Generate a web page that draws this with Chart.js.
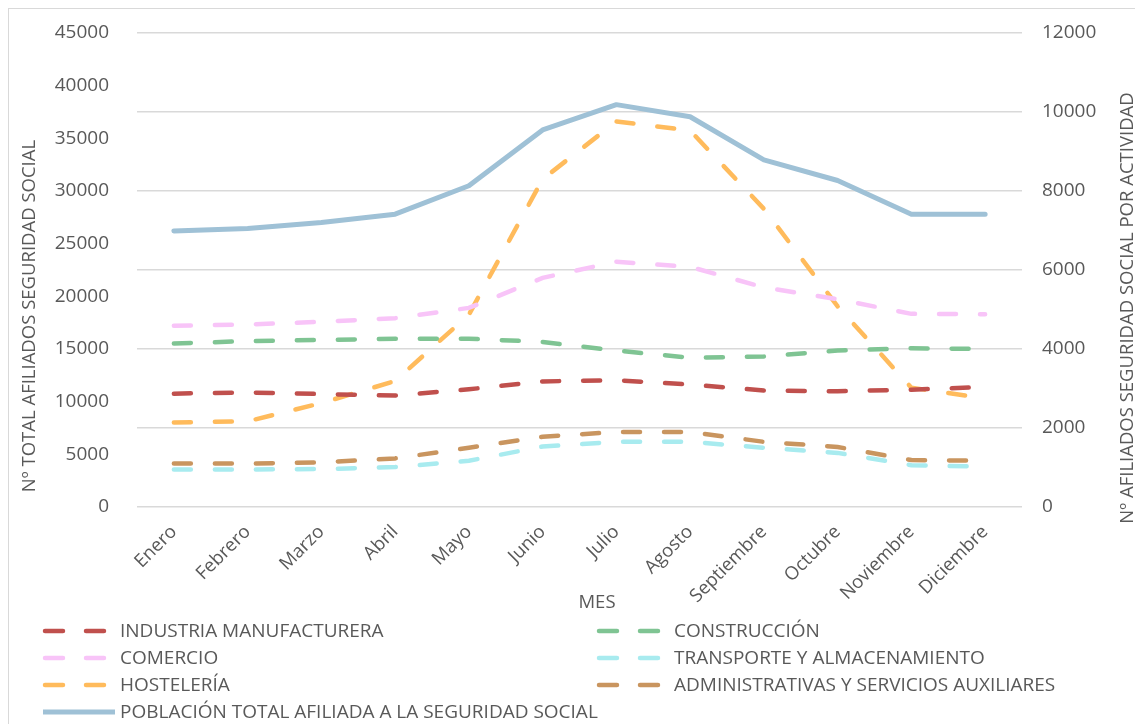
<!DOCTYPE html>
<html>
<head>
<meta charset="utf-8">
<script src="https://cdn.jsdelivr.net/npm/chart.js@4.4.1/dist/chart.umd.min.js"></script>
<style>
  body { margin: 0; background: #fff; }
  #frame { position: absolute; left: 8px; top: 8px; width: 1140px; height: 730px; border: 1px solid #d9d9d9; }
  #wrap { position: absolute; left: 0; top: 0; width: 1126px; height: 715px; }
</style>
</head>
<body>
<div id="frame"><div id="wrap"><canvas id="afiliados-chart"></canvas></div></div>
<script>
// Datos
const meses = ['Enero', 'Febrero', 'Marzo', 'Abril', 'Mayo', 'Junio', 'Julio', 'Agosto', 'Septiembre', 'Octubre', 'Noviembre', 'Diciembre'];
const industria = [2870, 2900, 2860, 2820, 2980, 3180, 3210, 3100, 2950, 2930, 2970, 3040];
const construccion = [4140, 4200, 4230, 4260, 4260, 4180, 3960, 3780, 3810, 3960, 4020, 4000];
const comercio = [4590, 4620, 4690, 4780, 5040, 5800, 6210, 6080, 5560, 5260, 4890, 4880];
const transporte = [950, 950, 960, 1010, 1170, 1530, 1650, 1650, 1500, 1370, 1060, 1020];
const hosteleria = [2140, 2170, 2630, 3190, 4870, 8300, 9760, 9530, 7550, 5080, 3020, 2750];
const administrativas = [1100, 1100, 1130, 1230, 1500, 1780, 1900, 1900, 1650, 1520, 1190, 1170];
const poblacionTotal = [26200, 26450, 27000, 27800, 30500, 35800, 38200, 37050, 32950, 31000, 27800, 27800];

const tituloIzq = 'Nº TOTAL AFILIADOS SEGURIDAD SOCIAL';
const tituloDer = 'Nº AFILIADOS SEGURIDAD SOCIAL POR ACTIVIDAD';
const tituloX = 'MES';

const textColor = '#595959';
const fontFamily = '"Open Sans", sans-serif';

function dashed(label, data, color) {
  return {
    label: label,
    data: data,
    yAxisID: 'y1',
    borderColor: color,
    backgroundColor: color,
    borderWidth: 4.5,
    borderDash: [17, 24],
    borderCapStyle: 'round',
    pointRadius: 0,
    tension: 0
  };
}

// Leyenda en dos columnas y titulos de ejes (como Excel)
const excelExtras = {
  id: 'excelExtras',
  afterDraw(chart) {
    const ctx = chart.ctx;
    ctx.save();
    ctx.fillStyle = textColor;
    ctx.textBaseline = 'middle';
    ctx.textAlign = 'center';
    ctx.font = '18.5px ' + fontFamily;

    ctx.save();
    ctx.translate(21, 307);
    ctx.rotate(-Math.PI / 2);
    ctx.fillText(tituloIzq, 0, 0);
    ctx.restore();

    ctx.save();
    ctx.translate(1119, 299);
    ctx.rotate(-Math.PI / 2);
    ctx.fillText(tituloDer, 0, 0);
    ctx.restore();

    ctx.fillText(tituloX, 588, 594);

    ctx.textAlign = 'left';
    ctx.font = '19px ' + fontFamily;
    chart.data.datasets.forEach((ds, i) => {
      const col = i % 2;
      const row = Math.floor(i / 2);
      const x = col ? 588 : 34;
      const y = 622 + row * 27;
      ctx.strokeStyle = ds.borderColor;
      ctx.lineCap = 'round';
      ctx.lineWidth = ds.borderWidth;
      ctx.beginPath();
      if (ds.borderDash) {
        ctx.moveTo(x + 2, y); ctx.lineTo(x + 20, y);
        ctx.moveTo(x + 43, y); ctx.lineTo(x + 61, y);
      } else {
        ctx.lineCap = 'butt';
        ctx.moveTo(x, y); ctx.lineTo(x + 72, y);
      }
      ctx.stroke();
      ctx.fillText(ds.label, x + 77, y + 1);
    });
    ctx.restore();
  }
};

function fitVertical(width) {
  return function (scale) {
    scale.width = width;
    scale.paddingTop = 0;
    scale.paddingBottom = 0;
  };
}

const ctx = document.getElementById('afiliados-chart').getContext('2d');
const chart = new Chart(ctx, {
  type: 'line',
  data: {
    labels: meses,
    datasets: [
      dashed('INDUSTRIA MANUFACTURERA', industria, '#c0504d'),
      dashed('CONSTRUCCIÓN', construccion, '#7fc493'),
      dashed('COMERCIO', comercio, '#f8c4f8'),
      dashed('TRANSPORTE Y ALMACENAMIENTO', transporte, '#a8ebef'),
      dashed('HOSTELERÍA', hosteleria, '#ffbb5c'),
      dashed('ADMINISTRATIVAS Y SERVICIOS AUXILIARES', administrativas, '#c9955f'),
      {
        label: 'POBLACIÓN TOTAL AFILIADA A LA SEGURIDAD SOCIAL',
        data: poblacionTotal,
        yAxisID: 'y',
        borderColor: '#9fc1d6',
        backgroundColor: '#9fc1d6',
        borderWidth: 5,
        borderCapStyle: 'round',
        borderJoinStyle: 'round',
        pointRadius: 0,
        tension: 0
      }
    ]
  },
  options: {
    responsive: true,
    maintainAspectRatio: false,
    animation: false,
    layout: { padding: { left: 0, right: 0, top: 24, bottom: 119 } },
    plugins: {
      legend: { display: false },
      tooltip: { enabled: false }
    },
    scales: {
      x: {
        offset: true,
        grid: { display: false },
        border: { display: false },
        ticks: {
          color: textColor,
          font: { family: fontFamily, size: 18.5 },
          maxRotation: 45,
          minRotation: 45,
          padding: 6
        },
        afterFit(scale) { scale.height = 98; }
      },
      y: {
        position: 'left',
        min: 0,
        max: 45000,
        grid: { display: false },
        border: { display: false },
        ticks: {
          stepSize: 5000,
          color: textColor,
          font: { family: fontFamily, size: 19 },
          padding: 20,
          callback: v => String(v)
        },
        afterFit: fitVertical(128)
      },
      y1: {
        position: 'right',
        min: 0,
        max: 12000,
        grid: { color: '#d9d9d9', lineWidth: 1.5, drawTicks: false },
        border: { display: false },
        ticks: {
          stepSize: 2000,
          color: textColor,
          font: { family: fontFamily, size: 19 },
          padding: 20,
          callback: v => String(v)
        },
        afterFit: fitVertical(113)
      }
    }
  },
  plugins: [excelExtras]
});
</script>
</body>
</html>
